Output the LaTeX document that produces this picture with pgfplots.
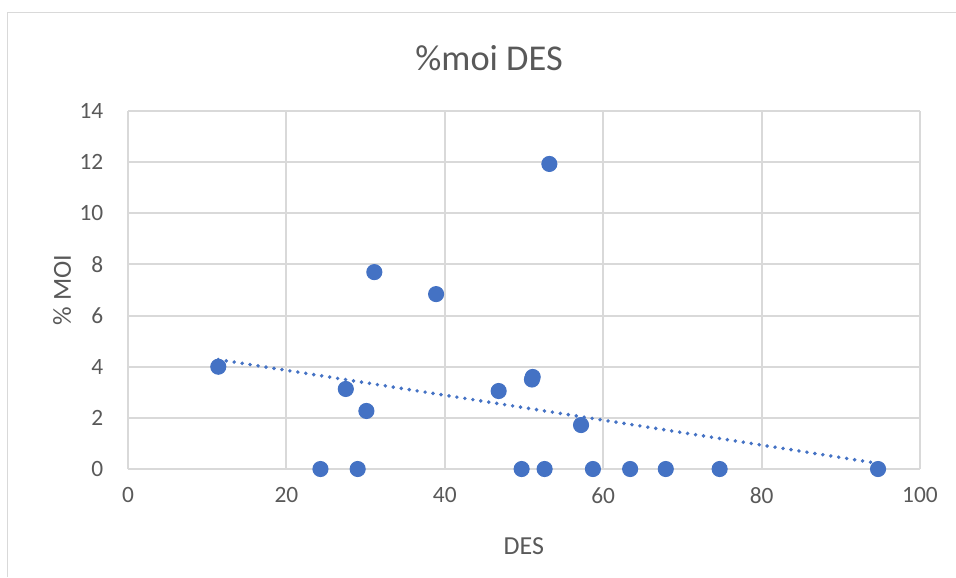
\documentclass[border=0pt]{standalone}
\usepackage{fontspec}
\setmainfont{Carlito}
\usepackage{pgfplots}
\pgfplotsset{compat=1.18}
\definecolor{dotblue}{HTML}{4472C4}
\definecolor{txtgray}{HTML}{595959}
\definecolor{gridgray}{HTML}{D9D9D9}
\definecolor{axgray}{HTML}{BFBFBF}
\begin{document}
\begin{tikzpicture}
\path[use as bounding box] (0,0) rectangle (368.06pt,222.15pt);
\draw[gridgray, line width=0.6pt] (2.9pt,0) -- (2.9pt,217.3pt) -- (368.06pt,217.3pt);
\begin{axis}[
    at={(49.28pt,41.58pt)}, anchor=south west,
    scale only axis, width=304.92pt, height=137.83pt,
    xmin=0, xmax=100, ymin=0, ymax=14,
    xtick={0,20,...,100}, ytick={0,2,...,14},
    grid=major, major grid style={gridgray, line width=0.75pt},
    axis line style={draw=none},
    major tick length=0pt,
    extra y ticks={0}, extra y tick labels={},
    extra y tick style={grid style={axgray, line width=0.75pt}},
    tick label style={font=\fontsize{9}{10}\selectfont, text=txtgray},
    xticklabel style={yshift=-3.5pt},
    yticklabel style={xshift=-6pt},
    /pgf/number format/assume math mode=true,
    clip=false,
]
\addplot[only marks, mark=*, mark size=2.9pt, mark options={fill=dotblue, draw=dotblue}] coordinates {
    (11.4,4.0) (24.3,0) (27.5,3.13) (29.0,0) (30.1,2.27) (31.1,7.70)
    (38.9,6.84) (46.8,3.05) (49.7,0) (51.0,3.5) (51.1,3.6) (52.6,0)
    (53.2,11.93) (57.2,1.72) (58.7,0) (63.4,0) (67.9,0) (74.7,0) (94.7,0)
};
\addplot[dotblue, line width=1.5pt, line cap=round, dash pattern=on 0pt off 3.1pt] coordinates {
    (11.4,4.28) (94.7,0.22)
};
\end{axis}
\node[text=txtgray, font=\fontsize{14}{16}\selectfont] at (188.3pt,199.8pt) {\%moi DES};
\node[text=txtgray, font=\fontsize{10}{12}\selectfont] at (201.7pt,11.9pt) {DES};
\node[text=txtgray, font=\fontsize{10}{12}\selectfont, rotate=90] at (23.9pt,110.5pt) {\% MOI};
\end{tikzpicture}
\end{document}
